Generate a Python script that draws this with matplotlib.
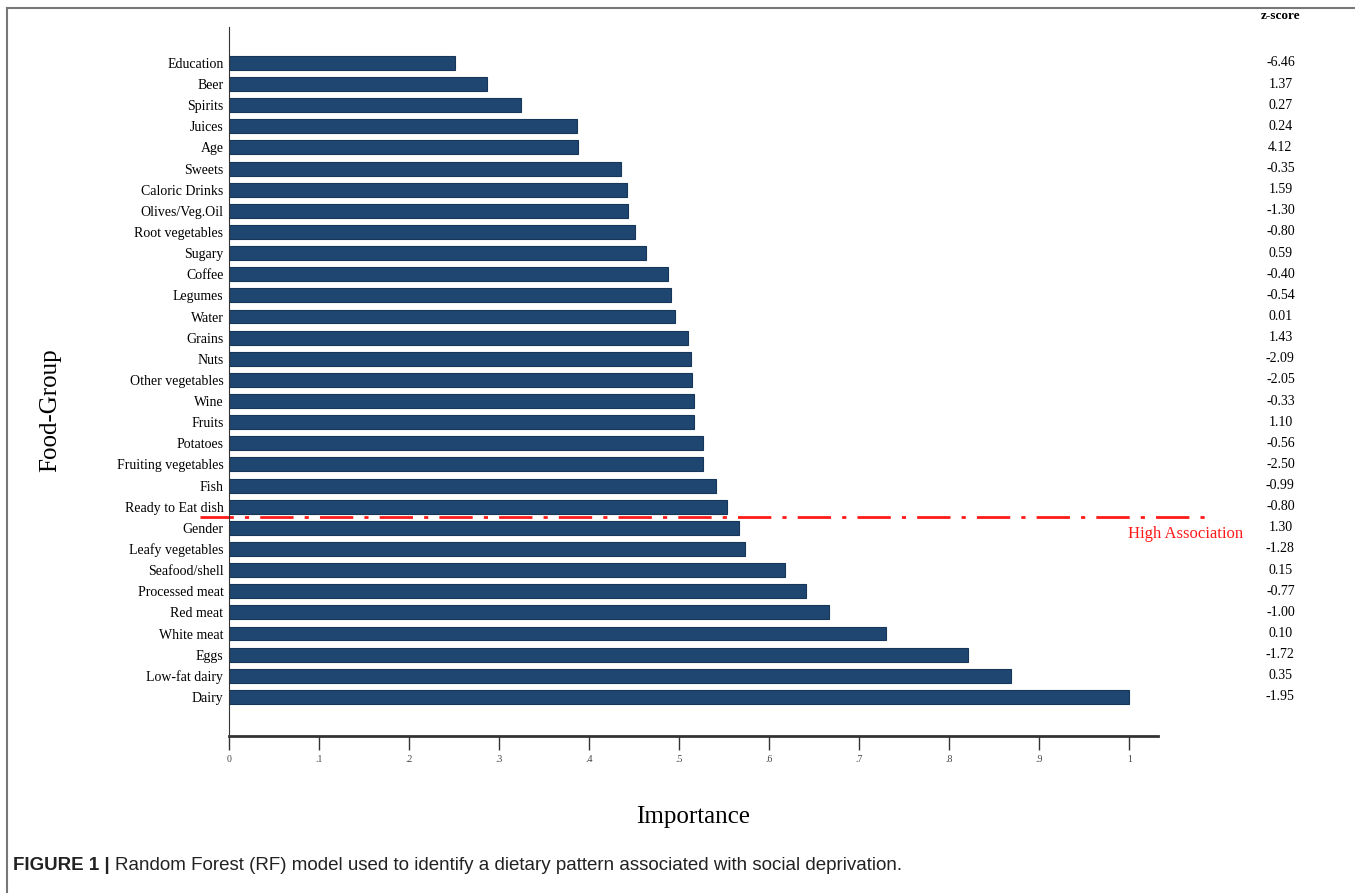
import matplotlib
matplotlib.use("Agg")
import matplotlib.pyplot as plt
from matplotlib.lines import Line2D

# data, bottom to top
groups = ["Dairy", "Low-fat dairy", "Eggs", "White meat", "Red meat", "Processed meat",
          "Seafood/shell", "Leafy vegetables", "Gender", "Ready to Eat dish", "Fish",
          "Fruiting vegetables", "Potatoes", "Fruits", "Wine", "Other vegetables", "Nuts",
          "Grains", "Water", "Legumes", "Coffee", "Sugary", "Root vegetables",
          "Olives/Veg.Oil", "Caloric Drinks", "Sweets", "Age", "Juices", "Spirits",
          "Beer", "Education"]
importance = [1.0, 0.869, 0.821, 0.730, 0.667, 0.641, 0.618, 0.573, 0.567, 0.553, 0.541,
              0.527, 0.527, 0.517, 0.516, 0.514, 0.513, 0.510, 0.496, 0.491, 0.488,
              0.463, 0.451, 0.443, 0.442, 0.436, 0.388, 0.387, 0.324, 0.287, 0.251]
zscores = ["-1.95", "0.35", "-1.72", "0.10", "-1.00", "-0.77", "0.15", "-1.28", "1.30",
           "-0.80", "-0.99", "-2.50", "-0.56", "1.10", "-0.33", "-2.05", "-2.09", "1.43",
           "0.01", "-0.54", "-0.40", "0.59", "-0.80", "-1.30", "1.59", "-0.35", "4.12",
           "0.24", "0.27", "1.37", "-6.46"]
xticks = [0, 0.1, 0.2, 0.3, 0.4, 0.5, 0.6, 0.7, 0.8, 0.9, 1.0]
xtick_labels = ["0", ".1", ".2", ".3", ".4", ".5", ".6", ".7", ".8", ".9", "1"]

serif = "Liberation Serif"
fig = plt.figure(figsize=(13.55, 8.93), dpi=100)
ax = fig.add_axes([229 / 1355, 1 - 736 / 893, 929 / 1355, 709 / 893])

ypos = list(range(len(groups)))
ax.barh(ypos, importance, height=0.66, color="#1f4670", edgecolor="#16365a", linewidth=0.8)

ax.set_xlim(0, 1.032)
ax.set_ylim(-1.85, 31.7)
ax.set_yticks(ypos)
ax.set_yticklabels(groups, family=serif, fontsize=10)
ax.tick_params(axis="y", length=0, pad=4)
ax.set_xticks(xticks)
ax.set_xticklabels(xtick_labels, family=serif, fontsize=7, color="#444444")
ax.tick_params(axis="x", length=10, width=1, color="#333333", pad=4)

for s in ["top", "right"]:
    ax.spines[s].set_visible(False)
ax.spines["left"].set_color("#333333")
ax.spines["bottom"].set_color("#333333")
ax.spines["bottom"].set_linewidth(2)

ax.set_xlabel("Importance", family=serif, fontsize=18, labelpad=30)
fig.text(50 / 1355, 1 - 410 / 893, "Food-Group", family=serif, fontsize=18,
         rotation=90, ha="center", va="center")

# threshold line
ax.plot([-0.032, 1.093], [8.52, 8.52], color="#ff1a1a", linestyle=(0, (12, 4, 1.5, 4)),
        linewidth=2, clip_on=False)
ax.text(1.127, 7.72, "High Association", color="#ff1a1a", family=serif, fontsize=12,
        ha="right", va="center", clip_on=False)

# z-score column
ax.text(1.168, 32.2, "z-score", family=serif, fontsize=9.5, fontweight="bold",
        ha="center", va="center", clip_on=False)
for y, z in zip(ypos, zscores):
    ax.text(1.168, y, z, family=serif, fontsize=10, ha="center", va="center", clip_on=False)

# panel frame
fig.add_artist(Line2D([7 / 1355, 7 / 1355], [0, 1 - 8 / 893], color="#777777", lw=1.5))
fig.add_artist(Line2D([7 / 1355, 1], [1 - 8 / 893, 1 - 8 / 893], color="#777777", lw=1.5))

# caption
cap_font = "Liberation Sans"
t1 = fig.text(13 / 1355, 1 - 865 / 893, "FIGURE 1 | ", family=cap_font, fontsize=13.5,
              fontweight="bold", color="#222222", va="center")
ax.annotate("Random Forest (RF) model used to identify a dietary pattern associated with social deprivation.",
            xy=(1, 0.5), xycoords=t1, va="center", ha="left", family=cap_font,
            fontsize=13.5, color="#222222")

fig.savefig("out.png", dpi=100)
